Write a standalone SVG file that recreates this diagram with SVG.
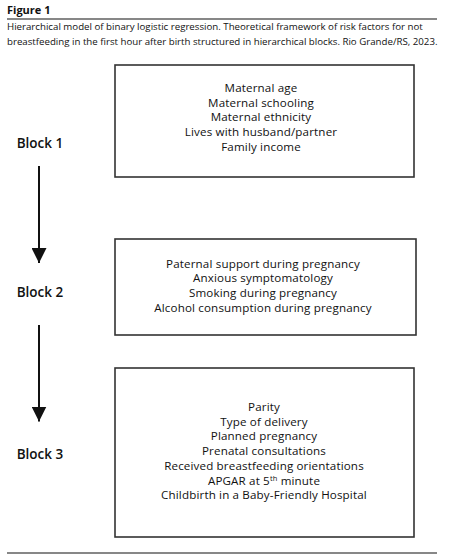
<svg xmlns="http://www.w3.org/2000/svg" width="449" height="560" viewBox="0 0 449 560">
<style>
text{font-family:"Open Sans","Noto Sans",sans-serif;fill:#111;}
.cap{font-size:9.7px;}
.ttl{font-size:11px;font-weight:bold;}
.item{font-size:11.6px;letter-spacing:0.15px;text-anchor:middle;}
.blk{font-size:13.5px;font-weight:600;text-anchor:middle;}
.box{fill:#fff;stroke:#333;stroke-width:1.6;}
.rule{stroke:#111;stroke-width:1.2;}
.conn{stroke:#111;stroke-width:2;fill:none;}
</style>
<defs>
<marker id="ah" viewBox="0 0 10 10" refX="10" refY="5" markerWidth="7.5" markerHeight="7.5" orient="auto" markerUnits="strokeWidth">
<path d="M0,0 L10,5 L0,10 Z" fill="#111"/>
</marker>
</defs>
<rect width="449" height="560" fill="#fff"/>
<g id="header">
<text class="ttl" x="7" y="14">Figure 1</text>
<line class="rule" x1="7" y1="19" x2="437" y2="19"/>
<text class="cap" x="7" y="30">Hierarchical model of binary logistic regression. Theoretical framework of risk factors for not</text>
<text class="cap" x="7" y="44.5">breastfeeding in the first hour after birth structured in hierarchical blocks. Rio Grande/RS, 2023.</text>
</g>
<g id="block1">
<text class="blk" x="40" y="147.5">Block 1</text>
<rect class="box" x="115" y="65" width="299" height="112"/>
<text class="item" x="261" y="92">Maternal age</text>
<text class="item" x="261" y="106.7">Maternal schooling</text>
<text class="item" x="261" y="121.4">Maternal ethnicity</text>
<text class="item" x="261" y="136.1">Lives with husband/partner</text>
<text class="item" x="261" y="150.8">Family income</text>
</g>
<g id="block2">
<text class="blk" x="40" y="296.5">Block 2</text>
<rect class="box" x="115" y="239" width="301" height="96"/>
<text class="item" x="263" y="267.5">Paternal support during pregnancy</text>
<text class="item" x="263" y="282.2">Anxious symptomatology</text>
<text class="item" x="263" y="296.9">Smoking during pregnancy</text>
<text class="item" x="263" y="311.6">Alcohol consumption during pregnancy</text>
</g>
<g id="block3">
<text class="blk" x="40" y="459">Block 3</text>
<rect class="box" x="115" y="368" width="299" height="169"/>
<text class="item" x="264" y="411">Parity</text>
<text class="item" x="264" y="425.7">Type of delivery</text>
<text class="item" x="264" y="440.4">Planned pregnancy</text>
<text class="item" x="264" y="455.1">Prenatal consultations</text>
<text class="item" x="264" y="469.8">Received breastfeeding orientations</text>
<text class="item" x="264" y="484.5">APGAR at 5<tspan font-size="7.5px" dy="-4">th</tspan><tspan dy="4"> minute</tspan></text>
<text class="item" x="264" y="499.2">Childbirth in a Baby-Friendly Hospital</text>
</g>
<g id="connectors">
<line class="conn" x1="39" y1="166" x2="39" y2="263" marker-end="url(#ah)"/>
<line class="conn" x1="39" y1="325" x2="39" y2="421.5" marker-end="url(#ah)"/>
</g>
<g id="footer">
<line class="rule" x1="7" y1="553" x2="437" y2="553"/>
</g>
</svg>
